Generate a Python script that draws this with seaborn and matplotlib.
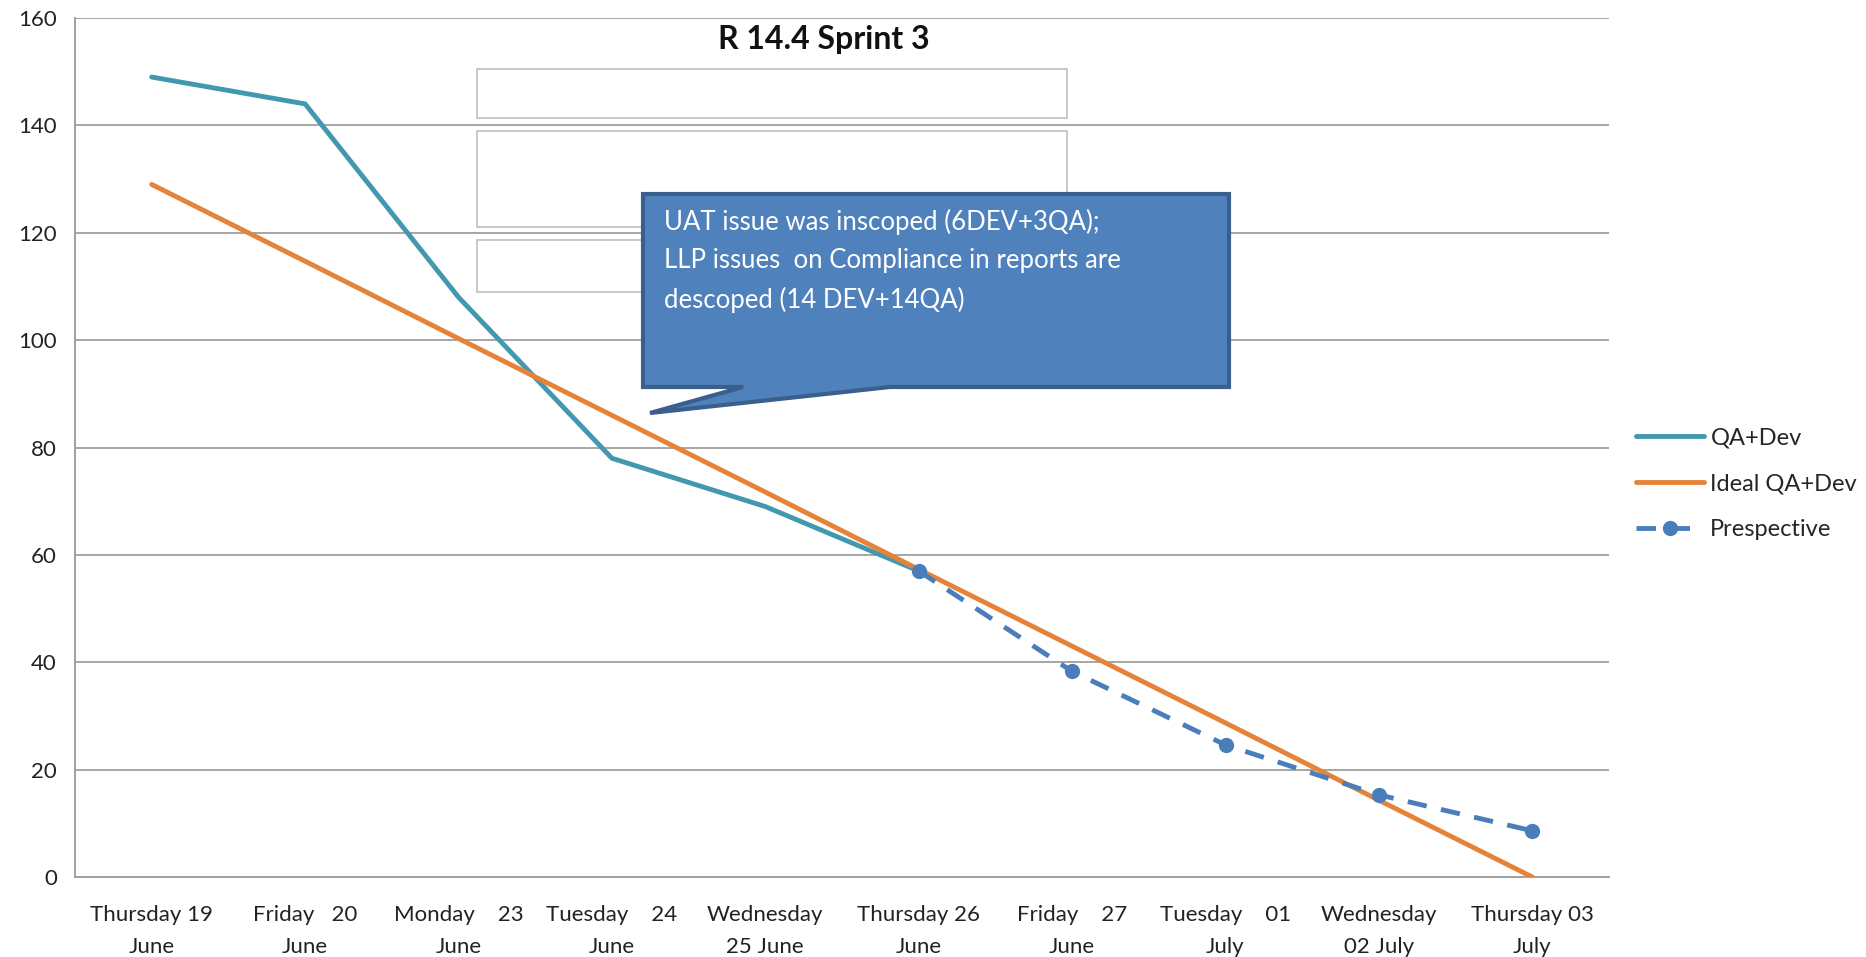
import numpy as np
import pandas as pd
import matplotlib
matplotlib.use("Agg")
import matplotlib.pyplot as plt
from matplotlib.patches import Polygon, Rectangle
import seaborn as sns

# --- data ---
days = [
    "Thursday 19\nJune", "Friday   20\nJune", "Monday    23\nJune",
    "Tuesday    24\nJune", "Wednesday\n25 June", "Thursday 26\nJune",
    "Friday    27\nJune", "Tuesday    01\nJuly", "Wednesday\n02 July",
    "Thursday 03\nJuly",
]
qa_dev = [149, 144, 108, 78, 69, 57]
ideal = [129, 114.7, 100.3, 86, 71.7, 57.3, 43, 28.7, 14.3, 0]
perspective = [57, 38.3, 24.6, 15.3, 8.6]
persp_start = 5

callout_text = ("UAT issue was inscoped (6DEV+3QA);\n"
                "LLP issues  on Compliance in reports are\n"
                "descoped (14 DEV+14QA)")

df_qa = pd.DataFrame({"x": range(len(qa_dev)), "y": qa_dev})
df_ideal = pd.DataFrame({"x": range(len(ideal)), "y": ideal})
df_persp = pd.DataFrame({"x": range(persp_start, persp_start + len(perspective)),
                         "y": perspective})

sns.set_style("white")
plt.rcParams["font.family"] = ["Lato", "DejaVu Sans"]

W, H = 1866, 957
fig = plt.figure(figsize=(W / 100, H / 100), dpi=100)
ax = fig.add_axes([75 / W, 80 / H, (1609 - 75) / W, (877 - 18) / H])

c_qa = "#4198AF"
c_ideal = "#E6833A"
c_persp = "#4A7EBB"

sns.lineplot(data=df_qa, x="x", y="y", ax=ax, color=c_qa, lw=3.5, label="QA+Dev", zorder=3)
sns.lineplot(data=df_ideal, x="x", y="y", ax=ax, color=c_ideal, lw=3.5, label="Ideal QA+Dev", zorder=4)
sns.lineplot(data=df_persp, x="x", y="y", ax=ax, color=c_persp, lw=3.5,
             linestyle=(0, (4, 3)), marker="o", markersize=11, markeredgewidth=0,
             label="Prespective", zorder=5)

# --- axes styling ---
ax.set_xlim(-0.5, len(days) - 0.5)
ax.set_ylim(0, 160)
ax.set_yticks(np.arange(0, 161, 20))
ax.set_xticks(range(len(days)))
ax.set_xticklabels(days, fontsize=16, color="#222222", linespacing=1.75)
ax.set_xticks(np.arange(-0.5, len(days), 1), minor=True)
ax.tick_params(axis="x", which="major", length=0, pad=20)
ax.tick_params(axis="x", which="minor", length=8, width=1.3, color="#A0A0A0")
ax.tick_params(axis="y", length=7, width=1.3, color="#A0A0A0", labelsize=16,
               labelcolor="#222222", pad=6)
ax.set_xlabel("")
ax.set_ylabel("")
ax.yaxis.grid(True, color="#A6A6A6", lw=1.4)
ax.xaxis.grid(False)
for s in ["top", "right"]:
    ax.spines[s].set_visible(False)
for s in ["left", "bottom"]:
    ax.spines[s].set_color("#A0A0A0")
    ax.spines[s].set_linewidth(1.4)

fig.text(824 / W, 1 - 40 / H, "R 14.4 Sprint 3", fontsize=23, fontweight="bold",
         ha="center", va="center", color="#111111")

# --- empty text boxes left over in the original ---
def fig_xy(px, py):
    return px / W, 1 - py / H

for (x0, y0, x1, y1) in [(477, 69, 1067, 118), (477, 131, 1067, 227), (477, 240, 700, 292)]:
    bx, by = fig_xy(x0, y1)
    ax.add_patch(Rectangle((bx, by), (x1 - x0) / W, (y1 - y0) / H,
                           transform=fig.transFigure, facecolor="white",
                           edgecolor="#C4C4C4", lw=1.3, clip_on=False, zorder=6))

# --- callout ---
pts = [(643, 194), (1229, 194), (1229, 387), (890, 387), (650, 413), (743, 387), (643, 387)]
ax.add_patch(Polygon([fig_xy(*p) for p in pts], closed=True, transform=fig.transFigure,
                     facecolor="#4F81BD", edgecolor="#3A5F8C", lw=3, clip_on=False,
                     zorder=7, joinstyle="miter"))
tx, ty = fig_xy(664, 209)
fig.text(tx, ty, callout_text, color="white", fontsize=18.5, ha="left", va="top",
         linespacing=1.65, zorder=8)

ax.legend(loc="center left", bbox_to_anchor=(1636 / W, 1 - 484 / H),
          bbox_transform=fig.transFigure, frameon=False, fontsize=17,
          handlelength=2.9, handletextpad=0.25, labelspacing=1.05, borderpad=0,
          borderaxespad=0)

fig.savefig("out.png", dpi=100)
